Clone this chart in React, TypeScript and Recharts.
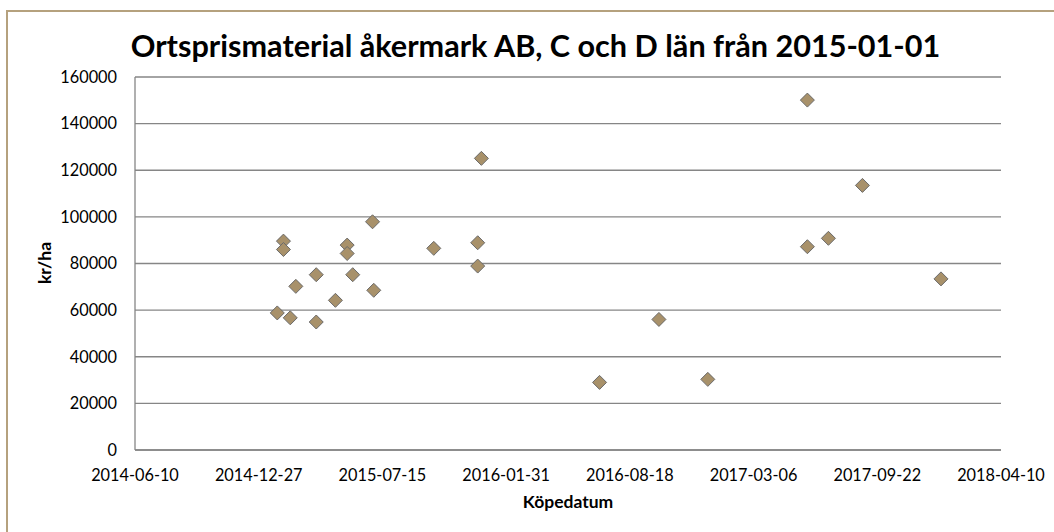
import { ScatterChart, Scatter, XAxis, YAxis, CartesianGrid } from "recharts";

// köpedatum + pris per hektar
const saleDates = [
  "2015-01-26", "2015-02-05", "2015-02-05", "2015-02-16", "2015-02-25",
  "2015-03-30", "2015-03-30", "2015-04-30", "2015-05-19", "2015-05-19",
  "2015-05-28", "2015-06-29", "2015-07-01", "2015-10-06", "2015-12-16",
  "2015-12-16", "2015-12-22", "2016-06-30", "2016-10-04", "2016-12-22",
  "2017-06-01", "2017-06-01", "2017-07-05", "2017-08-29", "2018-01-03",
];
const pricePerHa = [
  58800, 89600, 86000, 56700, 70200,
  54900, 75200, 64200, 87900, 84300,
  75200, 97900, 68500, 86500, 88900,
  78900, 125100, 29000, 56000, 30300,
  150100, 87200, 90800, 113500, 73400,
];

const xTickDates = [
  "2014-06-10", "2014-12-27", "2015-07-15", "2016-01-31",
  "2016-08-18", "2017-03-06", "2017-09-22", "2018-04-10",
];
const yTicks = [0, 20000, 40000, 60000, 80000, 100000, 120000, 140000, 160000];

const TITLE = "Ortsprismaterial åkermark AB, C och D län från 2015-01-01";

// excel-style serial day numbers
const EPOCH = Date.UTC(1899, 11, 30);
const DAY = 86400000;
const toSerial = (d: string) => Math.round((Date.parse(d) - EPOCH) / DAY);
const fromSerial = (s: number) => new Date(EPOCH + s * DAY).toISOString().slice(0, 10);

const points = saleDates.map((d, i) => ({ x: toSerial(d), y: pricePerHa[i] }));
const xTicks = xTickDates.map(toSerial);

const GRID = "#868686";
const FONT = "Lato, 'Open Sans', sans-serif";

function Diamond(props: any) {
  const { cx, cy } = props;
  if (cx == null || cy == null) return null;
  const r = 7;
  return (
    <polygon
      points={`${cx},${cy - r} ${cx + r},${cy} ${cx},${cy + r} ${cx - r},${cy}`}
      fill="#a8916a"
      stroke="#6a6a6a"
      strokeWidth={1}
    />
  );
}

export default function App() {
  return (
    <div
      style={{
        position: "fixed",
        left: 0,
        top: 0,
        width: 1054,
        height: 532,
        overflow: "hidden",
        background: "#fff",
        fontFamily: FONT,
      }}
    >
      <div
        style={{
          position: "absolute",
          left: 6,
          top: 10,
          width: 1100,
          height: 600,
          borderTop: "2px solid #b5a17e",
          borderLeft: "2px solid #b5a17e",
        }}
      />
      <div
        style={{
          position: "absolute",
          left: 0,
          top: 28,
          width: 1071,
          textAlign: "center",
          fontSize: 30.6,
          fontWeight: 700,
          color: "#000",
          lineHeight: "36px",
        }}
      >
        {TITLE}
      </div>
      <div
        style={{
          position: "absolute",
          left: 44,
          top: 263,
          transform: "translate(-50%, -50%) rotate(-90deg)",
          fontSize: 17.5,
          fontWeight: 700,
          whiteSpace: "nowrap",
        }}
      >
        kr/ha
      </div>
      <div
        style={{
          position: "absolute",
          left: 568,
          top: 501,
          transform: "translate(-50%, -50%)",
          fontSize: 17.5,
          fontWeight: 700,
        }}
      >
        Köpedatum
      </div>
      <div style={{ position: "absolute", left: 0, top: 0 }}>
        <ScatterChart
          width={1054}
          height={532}
          margin={{ top: 77, right: 53, bottom: 42, left: 55 }}
        >
          <CartesianGrid vertical={false} stroke={GRID} strokeWidth={1.3} />
          <XAxis
            type="number"
            dataKey="x"
            domain={[xTicks[0], xTicks[xTicks.length - 1]]}
            ticks={xTicks}
            tickFormatter={fromSerial}
            interval={0}
            height={40}
            axisLine={{ stroke: GRID, strokeWidth: 1.3 }}
            tickLine={false}
            tickSize={0}
            tickMargin={19}
            tick={{ fill: "#000", fontSize: 16.3, fontFamily: FONT }}
          />
          <YAxis
            type="number"
            dataKey="y"
            domain={[0, 160000]}
            ticks={yTicks}
            interval={0}
            width={80}
            axisLine={{ stroke: GRID, strokeWidth: 1.3 }}
            tickLine={false}
            tickSize={0}
            tickMargin={18}
            tick={{ fill: "#000", fontSize: 16.3, fontFamily: FONT }}
          />
          <Scatter data={points} shape={Diamond} isAnimationActive={false} />
        </ScatterChart>
      </div>
    </div>
  );
}
